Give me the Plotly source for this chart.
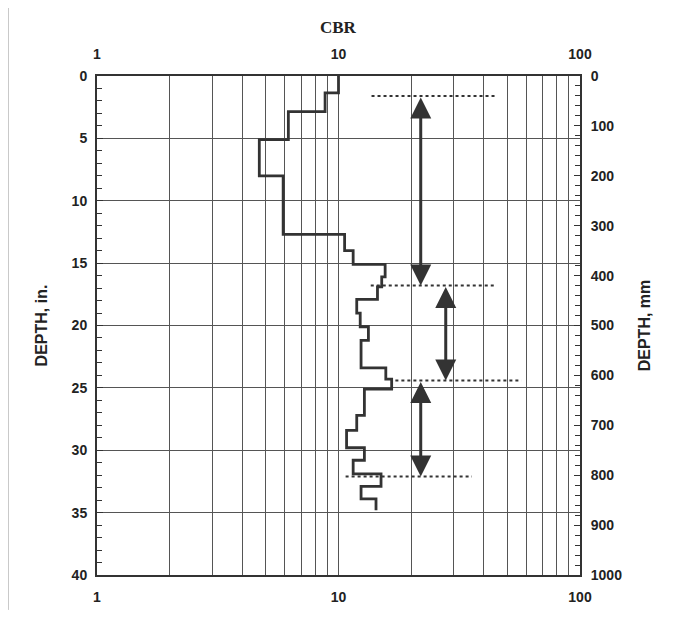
import math
import plotly.graph_objects as go

# ---- data ----
depth_breaks_in = [0, 1.35, 2.85, 5.1, 8.0, 12.7, 14.0, 15.1, 16.1, 16.9, 17.9, 19.0,
                   20.1, 21.2, 23.4, 24.3, 25.1, 27.2, 28.4, 29.8, 30.8, 31.9, 32.9, 33.9, 34.8]
cbr_layers = [10.0, 8.8, 6.2, 4.7, 5.9, 10.6, 11.5, 15.6, 15.1, 14.5, 11.9, 12.3,
              13.3, 12.4, 15.7, 16.6, 12.8, 11.9, 10.8, 12.8, 11.5, 15.0, 12.4, 14.3]

boundary_depth_in = [1.6, 16.8, 24.4, 32.1]
boundary_cbr_from = [13.7, 13.6, 17.2, 10.7]
boundary_cbr_to = [44.9, 44.9, 57.2, 35.7]

arrow_cbr = [21.9, 27.8, 21.9]
arrow_top_in = [1.6, 16.8, 24.4]
arrow_bottom_in = [16.8, 24.4, 32.1]

x_ticks = [1, 10, 100]
x_tick_labels = ["1", "10", "100"]
x_minor = [2, 3, 4, 5, 6, 7, 8, 9, 20, 30, 40, 50, 60, 70, 80, 90]
y_ticks_in = [0, 5, 10, 15, 20, 25, 30, 35, 40]
y_ticks_mm = [0, 100, 200, 300, 400, 500, 600, 700, 800, 900, 1000]

INK = "#333333"
GRID = "#555555"
SANS = "Liberation Sans, Arial, sans-serif"
SERIF = "Liberation Serif, Times New Roman, serif"

# build step profile
xs, ys = [], []
for i, c in enumerate(cbr_layers):
    xs += [c, c]
    ys += [depth_breaks_in[i], depth_breaks_in[i + 1]]

bx, by = [], []
for d, a, b in zip(boundary_depth_in, boundary_cbr_from, boundary_cbr_to):
    bx += [a, b, None]
    by += [d, d, None]

fig = go.Figure()
fig.add_trace(go.Scatter(x=xs, y=ys, mode="lines", line=dict(color=INK, width=2.8),
                         showlegend=False, hoverinfo="skip"))
fig.add_trace(go.Scatter(x=bx, y=by, mode="lines", line=dict(color=INK, width=2, dash="dot"),
                         showlegend=False, hoverinfo="skip"))
# dummy traces to activate secondary axes
fig.add_trace(go.Scatter(x=[1], y=[0], xaxis="x2", yaxis="y", mode="markers",
                         marker=dict(opacity=0), showlegend=False, hoverinfo="skip"))
fig.add_trace(go.Scatter(x=[1], y=[0], xaxis="x", yaxis="y2", mode="markers",
                         marker=dict(opacity=0), showlegend=False, hoverinfo="skip"))

annotations = []
for c, t, b in zip(arrow_cbr, arrow_top_in, arrow_bottom_in):
    lx = math.log10(c)
    annotations.append(dict(x=lx, y=b, ax=lx, ay=t, xref="x", yref="y", axref="x", ayref="y",
                            showarrow=True, arrowhead=2, startarrowhead=2, arrowside="end+start",
                            arrowwidth=3, arrowsize=1.4, startarrowsize=1.4, arrowcolor=INK,
                            standoff=0, startstandoff=0, text=""))
annotations.append(dict(text="CBR", x=0.5, xref="paper", y=1, yref="paper", yshift=49,
                        yanchor="middle", showarrow=False,
                        font=dict(family=SERIF, size=17, color="#222", weight="bold")))

tickfont = dict(family=SANS, size=14, color="#222", weight="bold")
titlefont = dict(family=SANS, size=16, color="#222", weight="bold")

# the page body adds an 8px offset, so the figure is 8px smaller with 8px less left/top margin
fig.update_layout(
    width=668, height=609,
    margin=dict(l=89, r=96, t=68, b=34),
    paper_bgcolor="white", plot_bgcolor="white",
    annotations=annotations,
    xaxis=dict(type="log", range=[0, 2], tickvals=x_ticks, ticktext=x_tick_labels,
               tickfont=tickfont, showgrid=True, gridcolor=GRID, gridwidth=1,
               minor=dict(tickvals=x_minor, showgrid=True, gridcolor=GRID, gridwidth=1, ticklen=0),
               showline=True, linecolor=INK, linewidth=2, mirror=True, ticks="", zeroline=False,
               ticklabelstandoff=8),
    xaxis2=dict(type="log", range=[0, 2], overlaying="x", side="top", matches="x",
                tickvals=x_ticks, ticktext=x_tick_labels, tickfont=tickfont,
                showgrid=False, ticks="", ticklabelstandoff=13),
    yaxis=dict(range=[40, 0], tickvals=y_ticks_in, tickfont=tickfont,
               showgrid=True, gridcolor=GRID, gridwidth=1,
               ticks="inside", ticklen=6, tickcolor=INK,
               minor=dict(dtick=1, ticks="inside", ticklen=5, tickcolor=INK),
               showline=True, linecolor=INK, linewidth=2, zeroline=False,
               ticklabelstandoff=5,
               title=dict(text="DEPTH, in.", font=titlefont, standoff=20)),
    yaxis2=dict(range=[1000, 0], overlaying="y", side="right", tickvals=y_ticks_mm,
                tickfont=tickfont, showgrid=False, zeroline=False,
                ticks="inside", ticklen=6, tickcolor=INK,
                minor=dict(dtick=20, ticks="inside", ticklen=5, tickcolor=INK),
                showline=True, linecolor=INK, linewidth=2,
                ticklabelstandoff=6,
                title=dict(text="DEPTH, mm", font=titlefont, standoff=18)),
    shapes=[
        dict(type="line", xref="paper", yref="paper", x0=-0.21, x1=1.21, y0=1.14, y1=1.14,
             line=dict(color="#999999", width=2), layer="below"),
        dict(type="line", xref="paper", yref="paper", x0=-0.184, x1=-0.184, y0=1.14, y1=-0.07,
             line=dict(color="#aaaaaa", width=1), layer="below"),
    ],
)

fig.write_html("out.html")
